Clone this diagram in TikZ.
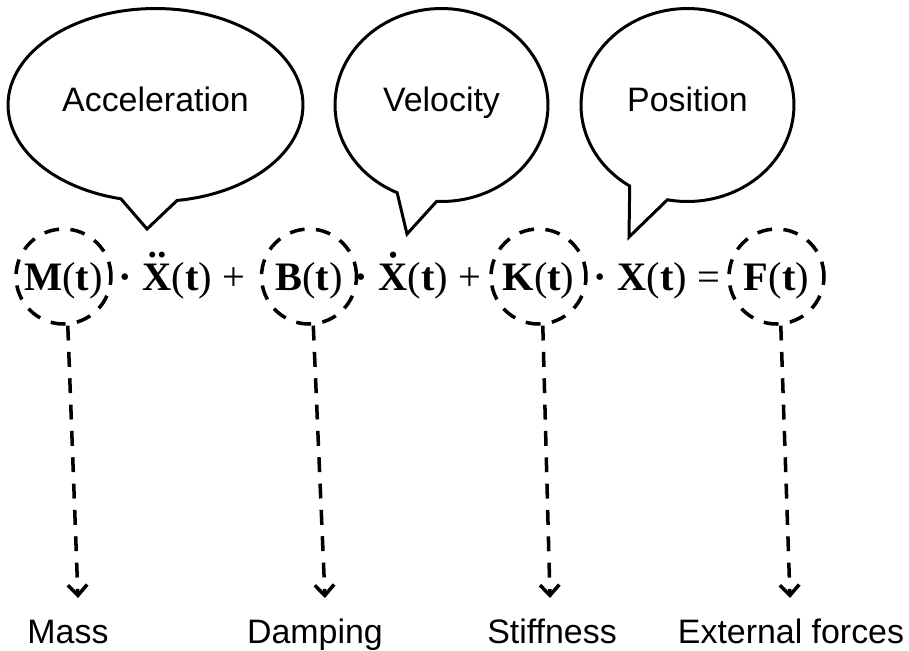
\documentclass[tikz,border=0pt]{standalone}
\usepackage{fontspec}
\usepackage{tikz}
\usetikzlibrary{positioning,shapes.callouts,arrows.meta}
\newfontfamily\labelfont{Liberation Sans}
\newfontfamily\eqfont{Liberation Serif}
\newcommand{\eqterm}[1]{\textbf{#1}(\textbf{t})}
\newcommand{\ddX}{{\boldmath$\ddot{\mbox{X}}$}}
\newcommand{\dX}{{\boldmath$\dot{\mbox{X}}$}}

\begin{document}
\begin{tikzpicture}[x=0.02cm,y=-0.02cm,>={Straight Barb[length=6pt,width=11pt]},
  bubble/.style={ellipse callout,draw,line width=1.7pt,callout pointer arc=22,minimum width=5.9cm,minimum height=3.86cm,text height=0.48cm,text depth=0.24cm,font=\labelfont\fontsize{19.3}{23}\selectfont},
  ring/.style={circle,draw,line width=2pt,dash pattern=on 8.5pt off 6.5pt,minimum size=1.9cm,inner sep=0pt,text height=0.62cm,text depth=0.08cm,font=\eqfont\fontsize{23}{28}\selectfont},
  eqpart/.style={anchor=base,inner sep=0pt,font=\eqfont\fontsize{23}{28}\selectfont},
  dlink/.style={->,line width=2pt,dash pattern=on 8.5pt off 6.5pt},
  lbl/.style={anchor=base,inner sep=0pt,font=\labelfont\fontsize{19.3}{23}\selectfont}]
  \useasboundingbox (0,0) rectangle (909,650);

  % speech bubbles
  \coordinate (acctip) at (147,229);
  \coordinate (veltip) at (407,234);
  \coordinate (postip) at (629,237);
  \node[bubble,callout absolute pointer=(acctip)] (acc) at (155.5,105) {Acceleration};
  \node[bubble,minimum width=4.26cm,callout absolute pointer=(veltip)] (vel) at (441.5,105) {Velocity};
  \node[bubble,minimum width=4.26cm,callout absolute pointer=(postip)] (pos) at (687.5,105) {Position};

  % equation
  \node[ring] (mc) at (63.5,276.5) {\eqterm{M}};
  \node[ring] (bc) at (309,276.5) {\eqterm{B}};
  \node[ring] (kc) at (538.5,276.5) {\eqterm{K}};
  \node[ring] (fc) at (776.5,276.5) {\eqterm{F}};
  \node[eqpart] (mx) at (182,290) {\textbf{·} {\bfseries\ddX}(\textbf{t}) +};
  \node[eqpart] (bx) at (418,290) {\textbf{·} {\bfseries\dX}(\textbf{t}) +};
  \node[eqpart] (kx) at (657,290) {\textbf{·} \textbf{X}(\textbf{t}) =};

  % meanings
  \coordinate (mtip) at (78,598);
  \coordinate (btip) at (325,598);
  \coordinate (ktip) at (550,598);
  \coordinate (ftip) at (790,598);
  \draw[dlink] (mc.-85) -- (mtip);
  \draw[dlink] (bc.-85) -- (btip);
  \draw[dlink] (kc.-85) -- (ktip);
  \draw[dlink] (fc.-85) -- (ftip);
  \node[lbl] (mass) at (68,643) {Mass};
  \node[lbl] (damp) at (315,643) {Damping};
  \node[lbl] (stiff) at (552,643) {Stiffness};
  \node[lbl] (force) at (791,643) {External forces};
\end{tikzpicture}
\end{document}
